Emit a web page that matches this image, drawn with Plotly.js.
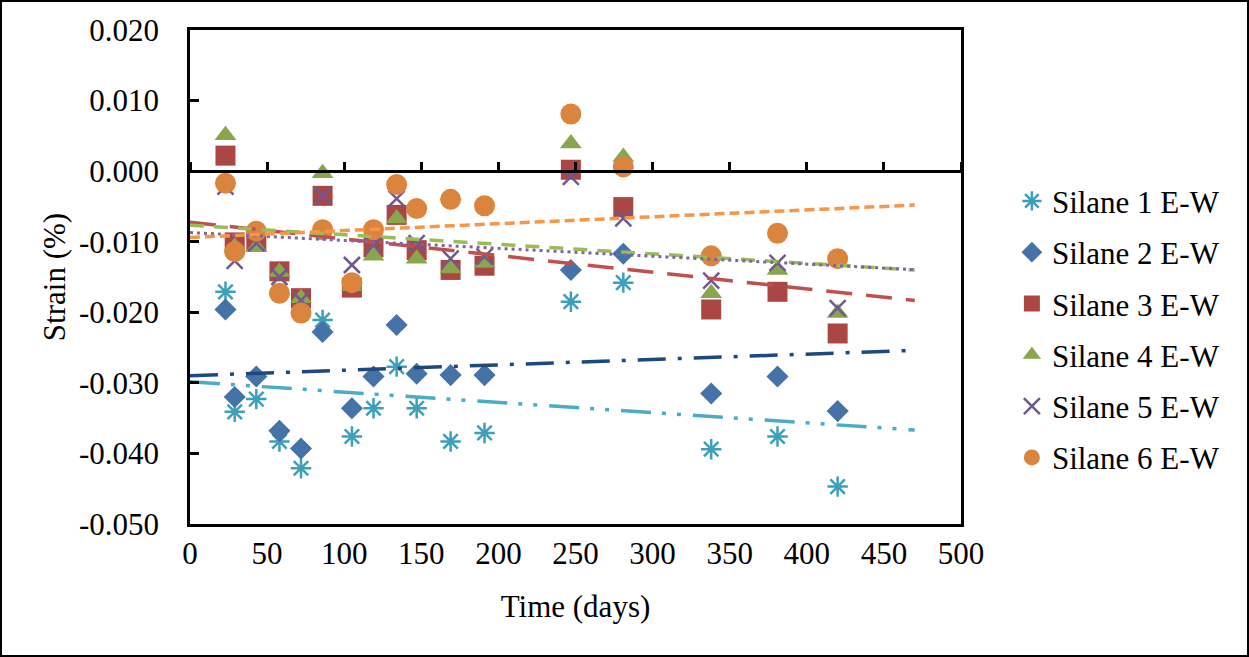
<!DOCTYPE html>
<html>
<head>
<meta charset="utf-8">
<script src="https://cdn.plot.ly/plotly-3.0.1.min.js"></script>
<style>
  body { margin: 0; background: #fff; }
  #chart { width: 1245px; height: 653px; border: 2px solid #000; }
</style>
</head>
<body>
<div id="chart"></div>
<script>
// measurement days
days = [23, 29, 43, 58, 72, 86, 105, 119, 134, 147, 169, 191, 247, 281, 338, 381, 420]

// strain (%) per specimen
silane1 = [-0.0171, -0.0341, -0.0323, -0.0383, -0.0421, -0.0211, -0.0376, -0.0336, -0.0277, -0.0336, -0.0383, -0.0371, -0.0185, -0.0158, -0.0394, -0.0376, -0.0447]
silane2 = [-0.0196, -0.0320, -0.0291, -0.0368, -0.0393, -0.0228, -0.0336, -0.0291, -0.0218, -0.0287, -0.0289, -0.0289, -0.0140, -0.0117, -0.0315, -0.0291, -0.0340]
silane3 = [0.0022, -0.0101, -0.0099, -0.0142, -0.0180, -0.0035, -0.0165, -0.0108, -0.0062, -0.0112, -0.0140, -0.0134, 0.0002, -0.0051, -0.0196, -0.0171, -0.0230]
silane4 = [0.0051, -0.0107, -0.0108, -0.0143, -0.0180, -0.0003, -0.0163, -0.0120, -0.0067, -0.0124, -0.0138, -0.0130, 0.0039, 0.0020, -0.0173, -0.0140, -0.0201]
silane5 = [-0.0022, -0.0127, -0.0102, -0.0150, -0.0183, -0.0035, -0.0133, -0.0105, -0.0039, -0.0102, -0.0124, -0.0121, -0.0008, -0.0067, -0.0155, -0.0130, -0.0194]
silane6 = [-0.0017, -0.0114, -0.0085, -0.0173, -0.0201, -0.0083, -0.0158, -0.0083, -0.0019, -0.0053, -0.0040, -0.0049, 0.0081, 0.0006, -0.0120, -0.0088, -0.0124]

names = ["Silane 1 E-W", "Silane 2 E-W", "Silane 3 E-W", "Silane 4 E-W", "Silane 5 E-W", "Silane 6 E-W"]

// extent of the linear trendlines (days)
trendDays = [0, 470]

yTickVals = [0.02, 0.01, 0, -0.01, -0.02, -0.03, -0.04, -0.05]
yTickText = ["0.020", "0.010", "0.000", "-0.010", "-0.020", "-0.030", "-0.040", "-0.050"]

series = [silane1, silane2, silane3, silane4, silane5, silane6]

markerStyles = [
  { symbol: 'asterisk-open', size: 17, color: '#3d9fb9', line: { color: '#3d9fb9', width: 2.5 } },
  { symbol: 'diamond', size: 17, color: '#4572a7' },
  { symbol: 'square', size: 20, color: '#aa4643' },
  { symbol: 'triangle-up', size: 19, color: '#89a54e' },
  { symbol: 'x-thin-open', size: 16, color: '#71588f', line: { color: '#71588f', width: 2.5 } },
  { symbol: 'circle', size: 21, color: '#db843d' }
]

trendStyles = [
  { color: '#4bacc6', width: 3.5, dash: '30px,11px,4px,11px,4px,12px' },
  { color: '#1f497d', width: 3.5, dash: '28px,12px,4px,12px' },
  { color: '#c0504d', width: 3.5, dash: '26px,14px' },
  { color: '#9bbb59', width: 3.5, dash: '14px,10px' },
  { color: '#8064a2', width: 3, dash: '3px,4px' },
  { color: '#f79646', width: 3.5, dash: '10px,5px' }
]

// least squares line, same as the spreadsheet's linear trendline
linfit = (xs, ys) => {
  let n = xs.length, sx = 0, sy = 0, sxx = 0, sxy = 0
  xs.forEach((x, i) => {
    sx += x; sy += ys[i]; sxx += x * x; sxy += x * ys[i]
  })
  let slope = (n * sxy - sx * sy) / (n * sxx - sx * sx)
  let intercept = (sy - slope * sx) / n
  return { slope: slope, intercept: intercept }
}

let traces = []
series.forEach((ys, i) => {
  traces.push({
    type: 'scatter',
    mode: 'markers',
    name: names[i],
    legendgroup: 'g' + i,
    x: days,
    y: ys,
    marker: markerStyles[i],
    hoverinfo: 'x+y+name'
  })
})

// trendlines drawn over the markers
series.forEach((ys, i) => {
  let fit = linfit(days, ys)
  traces.push({
    type: 'scatter',
    mode: 'lines',
    legendgroup: 'g' + i,
    showlegend: false,
    x: trendDays,
    y: trendDays.map(d => fit.intercept + fit.slope * d),
    line: trendStyles[i],
    hoverinfo: 'skip'
  })
})

// carrier for the axis line drawn at strain = 0
traces.push({
  type: 'scatter',
  mode: 'markers',
  x: [0],
  y: [null],
  xaxis: 'x2',
  yaxis: 'y',
  showlegend: false,
  hoverinfo: 'skip'
})

let font = { family: 'Liberation Serif, Times New Roman, serif', size: 31, color: '#000' }

Plotly.newPlot('chart', traces, {
  width: 1245,
  height: 653,
  margin: { l: 188, r: 286, t: 28, b: 131 },
  paper_bgcolor: '#fff',
  plot_bgcolor: '#fff',
  font: font,
  showlegend: true,
  legend: {
    x: 1.066,
    xanchor: 'left',
    y: 0.708,
    yanchor: 'top',
    traceorder: 'grouped',
    tracegroupgap: 8,
    font: font,
    bgcolor: 'rgba(0,0,0,0)'
  },
  xaxis: {
    range: [0, 500],
    tickvals: [0, 50, 100, 150, 200, 250, 300, 350, 400, 450, 500],
    ticks: '',
    showgrid: false,
    zeroline: false,
    showline: true,
    mirror: true,
    linecolor: '#000',
    linewidth: 2.5,
    ticklabelstandoff: 0,
    tickfont: font,
    title: { text: 'Time (days)', font: font, standoff: 26 },
    automargin: false
  },
  xaxis2: {
    overlaying: 'x',
    anchor: 'free',
    position: 5 / 7,
    side: 'top',
    range: [0, 500],
    tickvals: [0, 50, 100, 150, 200, 250, 300, 350, 400, 450, 500],
    ticks: 'outside',
    ticklen: 8,
    tickwidth: 2.5,
    tickcolor: '#000',
    showticklabels: false,
    showgrid: false,
    zeroline: false,
    showline: true,
    linecolor: '#000',
    linewidth: 2.5
  },
  yaxis: {
    range: [-0.05, 0.02],
    tickvals: yTickVals,
    ticktext: yTickText,
    ticks: 'inside',
    ticklen: 9,
    tickwidth: 2.5,
    tickcolor: '#000',
    showgrid: false,
    zeroline: false,
    showline: true,
    mirror: true,
    linecolor: '#000',
    linewidth: 2.5,
    ticklabelstandoff: 22,
    tickfont: font,
    title: { text: 'Strain (%)', font: font, standoff: 5 },
    automargin: false
  }
}, { displayModeBar: false })
</script>
</body>
</html>
